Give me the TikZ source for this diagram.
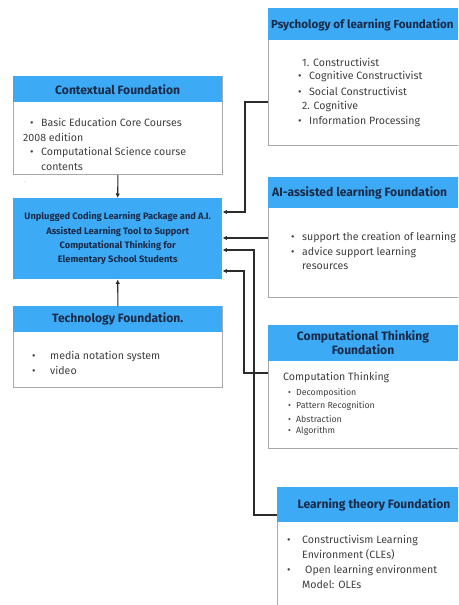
\documentclass[tikz,border=0pt]{standalone}
\usepackage{fontspec}
\setmainfont{Fira Sans}
\usetikzlibrary{arrows.meta}
\definecolor{hdrblue}{HTML}{3DAAF5}
\definecolor{hdrtext}{HTML}{1B2A47}
\definecolor{bodytext}{HTML}{3F3F3F}
\definecolor{frame}{HTML}{A8A8A8}
\definecolor{wire}{HTML}{2B2B2B}
\newcommand{\bul}{\makebox[11pt][l]{\textbullet}}
\begin{document}
\begin{tikzpicture}[x=1pt,y=-1pt,
  body/.style={draw=frame, line width=0.8pt, fill=white, anchor=north west, inner sep=0},
  hdr/.style={fill=hdrblue, anchor=north west, inner sep=0},
  title/.style={font=\bfseries\fontsize{12.1}{14}\selectfont, text=hdrtext, inner sep=0},
  item/.style={font=\fontsize{10.6}{12}\selectfont, text=bodytext, anchor=west, inner sep=0},
  small/.style={font=\fontsize{8.8}{10}\selectfont, text=bodytext, anchor=west, inner sep=0},
  wire/.style={draw=wire, line width=1.1pt},
  arr/.style={wire, -{Latex[length=4.5pt,width=4.5pt]}}
]
\useasboundingbox (0,0) rectangle (458,605);
\clip (0,0) rectangle (458,605);
\fill[white] (0,0) rectangle (458,605);

% ---------- left column ----------
% Contextual Foundation
\node[body, minimum width=209pt, minimum height=98pt] (ctxB) at (13,76) {};
\node[hdr, minimum width=209pt, minimum height=26pt] (ctxH) at (13,76) {};
\node[title] (ctxT) at (ctxH.center) {Contextual Foundation};
\node[item] (ctx1) at (30,122) {\bul Basic Education Core Courses};
\node[item] (ctx2) at (23,137) {2008 edition};
\node[item] (ctx3) at (30,152) {\bul Computational Science course};
\node[item] (ctx4) at (41,167) {contents};
\node[font=\tiny, text=gray!60, inner sep=0] (mark) at (25,183) {-};

% central box
\node[fill=hdrblue, anchor=north west, inner sep=0, minimum width=209pt, minimum height=81pt] (main) at (13,198) {};
\node[font=\bfseries\fontsize{9.3}{14.3}\selectfont, text=hdrtext, align=center, inner sep=0] (mainT) at (main.center)
  {Unplugged Coding Learning Package and A.I.\\ Assisted Learning Tool to Support\\ Computational Thinking for\\ Elementary School Students};

% Technology Foundation
\node[body, minimum width=209pt, minimum height=81pt] (techB) at (13,306) {};
\node[hdr, minimum width=209pt, minimum height=26pt] (techH) at (13,306) {};
\node[title] (techT) at (techH.center) {Technology Foundation.};
\node[item] (tech1) at (32,356) {\makebox[18pt][l]{\textbullet}media notation system};
\node[item] (tech2) at (32,370) {\makebox[18pt][l]{\textbullet}video};

% ---------- right column ----------
% Psychology of learning Foundation
\node[body, minimum width=200pt, minimum height=137pt] (psyB) at (268,8) {};
\node[hdr, minimum width=200pt, minimum height=32pt] (psyH) at (268,8) {};
\node[title, anchor=west, font=\bfseries\fontsize{11.6}{14}\selectfont] (psyT) at (271,25) {Psychology of learning Foundation};
\node[item] (psy1) at (302,62) {1. Constructivist};
\node[item] (psy2) at (298,76) {\bul Cognitive Constructivist};
\node[item] (psy3) at (298,91) {\bul Social Constructivist};
\node[item] (psy4) at (302,106) {2. Cognitive};
\node[item] (psy5) at (298,121) {\bul Information Processing};

% AI-assisted learning Foundation
\node[body, minimum width=200pt, minimum height=120pt] (aiB) at (268,177) {};
\node[hdr, minimum width=200pt, minimum height=31pt] (aiH) at (268,177) {};
\node[title, anchor=west] (aiT) at (272,193) {AI-assisted learning Foundation};
\node[item] (ai1) at (291,237) {\bul support the creation of learning};
\node[item] (ai2) at (291,252) {\bul advice support learning};
\node[item] (ai3) at (302,267) {resources};

% Computational Thinking Foundation
\node[body, minimum width=200pt, minimum height=123pt] (ctB) at (268,325) {};
\node[hdr, minimum width=200pt, minimum height=36pt] (ctH) at (268,325) {};
\node[title, align=center] (ctT) at (363,343) {Computational Thinking\\ Foundation};
\node[item] (ct0) at (283,377) {Computation Thinking};
\node[small] (ct1) at (288,393) {\makebox[8pt][l]{\textbullet}Decomposition};
\node[small] (ct2) at (288,406) {\makebox[8pt][l]{\textbullet}Pattern Recognition};
\node[small] (ct3) at (288,419) {\makebox[8pt][l]{\textbullet}Abstraction};
\node[small] (ct4) at (288,431) {\makebox[8pt][l]{\textbullet}Algorithm};

% Learning theory Foundation
\node[body, minimum width=200pt, minimum height=130pt] (ltB) at (277,487) {};
\node[hdr, minimum width=200pt, minimum height=35pt] (ltH) at (277,487) {};
\node[title] (ltT) at (374,505) {Learning theory Foundation};
\node[item] (lt1) at (287,540) {\makebox[15pt][l]{\textbullet}Constructivism Learning};
\node[item] (lt2) at (302,555) {Environment (CLEs)};
\node[item] (lt3) at (287,570) {\makebox[18pt][l]{\textbullet}Open learning environment};
\node[item] (lt4) at (302,585) {Model: OLEs};

% ---------- connectors ----------
\coordinate (jpsy) at (245,212);
\coordinate (jct)  at (244,271);
\coordinate (jlt)  at (254,250);

\draw[arr] (ctxB.south) -- (main.north);
\draw[arr] (techB.north) -- (main.south);
\draw[arr] (psyB.west |- 0,102) -| (jpsy) -- (main.east |- jpsy);
\draw[arr] (aiB.west |- 0,238) -- (main.east |- 0,238);
\draw[arr] (ltB.west |- 0,515) -| (jlt) -- (main.east |- jlt);
\draw[arr] (ctB.west |- 0,373) -| (jct) -- (main.east |- jct);
\end{tikzpicture}
\end{document}
